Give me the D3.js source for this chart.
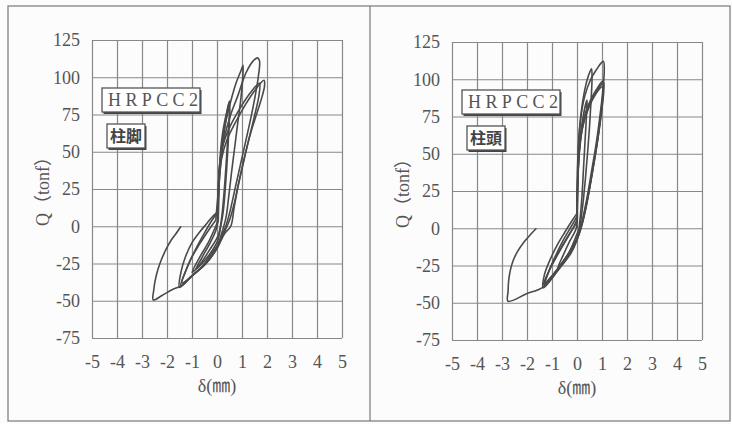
<!DOCTYPE html>
<html>
<head>
<meta charset="utf-8">
<script src="https://cdn.jsdelivr.net/npm/d3@7"></script>
<style>
  body { margin: 0; background: #fcfcfc; }
  .tick text { font-family: "Liberation Serif", "DejaVu Serif", serif; font-size: 18px; fill: #555; }
  .tick line { stroke: #888; stroke-width: 1.2; }
  .loop { fill: none; stroke: #4a4a4a; stroke-width: 1.6; }
</style>
</head>
<body>
<div id="chart"></div>
<script>
// Axis ticks
var xTicks = [-5, -4, -3, -2, -1, 0, 1, 2, 3, 4, 5];
var yTicks = [-75, -50, -25, 0, 25, 50, 75, 100, 125];

// Labels
var specimen = "HRPCC2";
var xTitle = "δ(㎜)";
var yTitle = "Q（tonf）";

// 柱脚 (column foot) loops, [delta mm, Q tonf]
var footLoop1 = [[0,0],[0.04,15],[0.1,32],[0.2,50],[0.32,67],[0.48,83],[0.5,76],[0.46,60],[0.4,42],[0.33,25],[0.25,10],[0.15,0],[0.02,-10],[-0.3,-19],[-0.6,-25],[-0.85,-29],[-0.6,-21],[-0.3,-12],[-0.05,-3],[0.05,4]];
var footLoop2 = [[0.05,4],[0.07,25],[0.12,45],[0.22,62],[0.38,76],[0.5,84],[0.5,74],[0.42,56],[0.35,38],[0.27,20],[0.18,5],[0.05,-6],[-0.3,-16],[-0.7,-26],[-1.0,-31],[-0.7,-21],[-0.35,-11],[-0.05,0],[0.05,4]];
var footLoop3 = [[0.05,4],[0.06,20],[0.08,35],[0.16,50],[0.29,65],[0.49,80],[0.76,96],[0.95,104],[1.04,108],[1.03,100],[0.95,85],[0.82,68],[0.7,52],[0.58,36],[0.47,20],[0.36,6],[0.2,-4],[0.0,-14],[-0.4,-24],[-0.9,-32],[-1.4,-38],[-1.2,-28],[-0.9,-17],[-0.55,-6],[-0.2,4],[0.02,9]];
var footLoop4 = [[0.02,9],[0.06,28],[0.14,45],[0.3,60],[0.55,75],[0.82,87],[1.16,103],[1.45,111],[1.62,113],[1.7,111],[1.65,100],[1.5,85],[1.32,70],[1.12,55],[0.92,40],[0.72,25],[0.52,10],[0.35,0],[0.15,-8],[-0.05,-16],[-0.44,-25],[-0.98,-33],[-1.5,-41],[-1.43,-30],[-1.25,-20],[-1.0,-11],[-0.7,-4],[-0.4,2],[-0.15,7],[0.05,10]];
var footLoop5 = [[0.05,10],[0.08,28],[0.18,45],[0.4,58],[0.75,70],[1.15,82],[1.55,92],[1.88,98],[1.9,94],[1.75,84],[1.52,72],[1.3,60],[1.1,46],[0.95,35],[0.82,25],[0.68,12],[0.55,0],[0.3,-5],[0.0,-15],[-0.44,-25],[-0.98,-33],[-1.45,-40],[-1.3,-32],[-1.05,-22],[-0.7,-12],[-0.35,-3],[-0.05,4]];
var footLoop6 = [[-0.05,4],[0.04,22],[0.1,40],[0.25,55],[0.55,68],[0.95,80],[1.35,90],[1.7,96],[1.68,88],[1.5,74],[1.3,60],[1.08,45],[0.88,30],[0.7,16],[0.5,4],[0.29,-4],[0.05,-12],[-0.2,-18],[-0.6,-27],[-1.05,-34],[-1.44,-40],[-1.78,-42.5],[-2.2,-46.5],[-2.55,-49.5],[-2.53,-42.8],[-2.47,-36.1],[-2.37,-29.4],[-2.23,-22.7],[-2.05,-15.9],[-1.83,-9.2],[-1.65,-5.2],[-1.44,0]];

// 柱頭 (column head) loops
var headLoop1 = [[0,0],[0.01,15],[0.03,32],[0.08,50],[0.18,68],[0.4,86],[0.38,76],[0.32,58],[0.26,40],[0.2,22],[0.12,6],[0.02,-6],[-0.2,-13],[-0.5,-21],[-0.78,-27],[-0.55,-18],[-0.3,-9],[-0.05,-1],[0.01,4]];
var headLoop2 = [[0.01,4],[0.01,22],[0.03,42],[0.08,60],[0.17,78],[0.3,92],[0.45,102],[0.58,107],[0.6,100],[0.56,85],[0.5,68],[0.42,50],[0.33,32],[0.22,14],[0.1,0],[-0.05,-9],[-0.35,-18],[-0.8,-29],[-1.3,-39],[-1.15,-30],[-0.9,-20],[-0.55,-8],[-0.2,2],[0,8]];
var headLoop3 = [[0,8],[0.01,28],[0.04,50],[0.12,70],[0.3,88],[0.55,100],[0.8,107],[0.97,111],[1.06,112],[1.09,106],[1.02,90],[0.9,73],[0.76,56],[0.6,40],[0.45,25],[0.3,12],[0.15,1],[0,-8],[-0.25,-17],[-0.75,-28],[-1.35,-40],[-1.3,-31],[-1.02,-19],[-0.75,-10],[-0.5,-3],[-0.2,5],[0,10]];
var headLoop4 = [[0,10],[0.03,32],[0.1,52],[0.25,70],[0.5,83],[0.75,91],[0.95,96],[1.06,98],[1.07,92],[0.98,78],[0.85,62],[0.7,47],[0.55,32],[0.4,18],[0.25,6],[0.1,-3],[-0.1,-11],[-0.45,-20],[-0.9,-30],[-1.35,-38],[-1.1,-28],[-0.75,-17],[-0.4,-7],[-0.1,2],[0.01,6]];
var headLoop5 = [[0.01,6],[0.02,26],[0.06,46],[0.16,64],[0.35,78],[0.6,88],[0.85,95],[1.04,99],[1.05,93],[0.96,78],[0.84,62],[0.7,46],[0.55,31],[0.4,17],[0.24,5],[0.08,-4],[-0.15,-12],[-0.5,-21],[-0.95,-31],[-1.3,-37],[-1.05,-26],[-0.7,-15],[-0.35,-5],[-0.05,3],[0.01,6]];
var headLoop6 = [[0.01,6],[0.03,28],[0.08,48],[0.2,66],[0.45,80],[0.75,90],[1.0,95],[1.03,88],[0.93,72],[0.8,56],[0.64,40],[0.48,25],[0.32,12],[0.17,2],[0.02,-3],[-0.16,-10.5],[-0.42,-19.4],[-0.82,-28.4],[-1.36,-39.5],[-2.02,-44],[-2.76,-49],[-2.757,-42.3],[-2.736,-35.6],[-2.676,-28.9],[-2.564,-22.2],[-2.376,-15.5],[-2.096,-8.8],[-1.86,-4.2],[-1.624,0]];

var panels = [
  { tag: "柱脚", left: 92, top: 40, loops: [footLoop1, footLoop2, footLoop3, footLoop4, footLoop5, footLoop6] },
  { tag: "柱頭", left: 452, top: 42, loops: [headLoop1, headLoop2, headLoop3, headLoop4, headLoop5, headLoop6] }
];

var svgWidth = 732;
var svgHeight = 424;
var width = 250;
var height = 298;

var svg = d3.select("#chart")
  .append("svg")
  .attr("width", svgWidth)
  .attr("height", svgHeight);

// outer frame and divider
svg.append("rect")
  .attr("x", 8).attr("y", 6)
  .attr("width", 722).attr("height", 415)
  .attr("fill", "none").attr("stroke", "#777").attr("stroke-width", 1.2);
svg.append("line")
  .attr("x1", 370).attr("x2", 370).attr("y1", 6).attr("y2", 421)
  .attr("stroke", "#777").attr("stroke-width", 1.2);

var xScale = d3.scaleLinear().domain([-5, 5]).range([0, width]);
var yScale = d3.scaleLinear().domain([-75, 125]).range([height, 0]);

var line = d3.line()
  .x(d => xScale(d[0]))
  .y(d => yScale(d[1]))
  .curve(d3.curveCatmullRom.alpha(0.5));

panels.forEach(p => {
  var g = svg.append("g")
    .attr("transform", `translate(${p.left}, ${p.top})`);

  // grid + tick labels (plain hyphen minus like the original)
  g.append("g")
    .attr("transform", `translate(0, ${height})`)
    .call(d3.axisBottom(xScale).tickValues(xTicks).tickFormat(d => String(d)).tickSize(-height).tickPadding(17))
    .call(a => a.select(".domain").remove());
  g.append("g")
    .call(d3.axisLeft(yScale).tickValues(yTicks).tickFormat(d => String(d)).tickSize(-width).tickPadding(12))
    .call(a => a.select(".domain").remove());

  // axis titles
  g.append("text")
    .attr("transform", `translate(-49, ${height / 2 - 2}) rotate(-90)`)
    .attr("text-anchor", "middle")
    .attr("dy", "0.35em")
    .style("font-family", "Liberation Serif, Noto Sans CJK JP")
    .style("font-size", "18px")
    .style("fill", "#555")
    .text(yTitle);
  g.append("text")
    .attr("x", xScale(0))
    .attr("y", height + 48)
    .attr("text-anchor", "middle")
    .attr("dy", "0.35em")
    .style("font-family", "Liberation Serif, Noto Sans CJK JP")
    .style("font-size", "18px")
    .style("fill", "#555")
    .text(xTitle);

  // hysteresis loops
  g.selectAll("path.loop")
    .data(p.loops)
    .enter()
    .append("path")
    .attr("class", "loop")
    .attr("d", line);

  // specimen label box
  g.append("rect")
    .attr("x", 11.5).attr("y", 50)
    .attr("width", 98).attr("height", 24)
    .attr("fill", "#444");
  g.append("rect")
    .attr("x", 10).attr("y", 48)
    .attr("width", 98).attr("height", 24)
    .attr("fill", "#fff").attr("stroke", "#555").attr("stroke-width", 1.3);
  g.append("text")
    .attr("x", 16).attr("y", 66)
    .style("font-family", "Liberation Serif")
    .style("font-size", "18px")
    .style("letter-spacing", "4.4px")
    .style("fill", "#555")
    .text(specimen);

  // location label box
  g.append("rect")
    .attr("x", 16.5).attr("y", 86)
    .attr("width", 38).attr("height", 24)
    .attr("fill", "#444");
  g.append("rect")
    .attr("x", 15).attr("y", 84)
    .attr("width", 38).attr("height", 24)
    .attr("fill", "#fff").attr("stroke", "#555").attr("stroke-width", 1.3);
  g.append("text")
    .attr("x", 34).attr("y", 96)
    .attr("text-anchor", "middle")
    .attr("dy", "0.35em")
    .style("font-family", "Noto Sans CJK JP")
    .style("font-weight", "bold")
    .style("font-size", "16px")
    .style("fill", "#444")
    .text(p.tag);
});
</script>
</body>
</html>
